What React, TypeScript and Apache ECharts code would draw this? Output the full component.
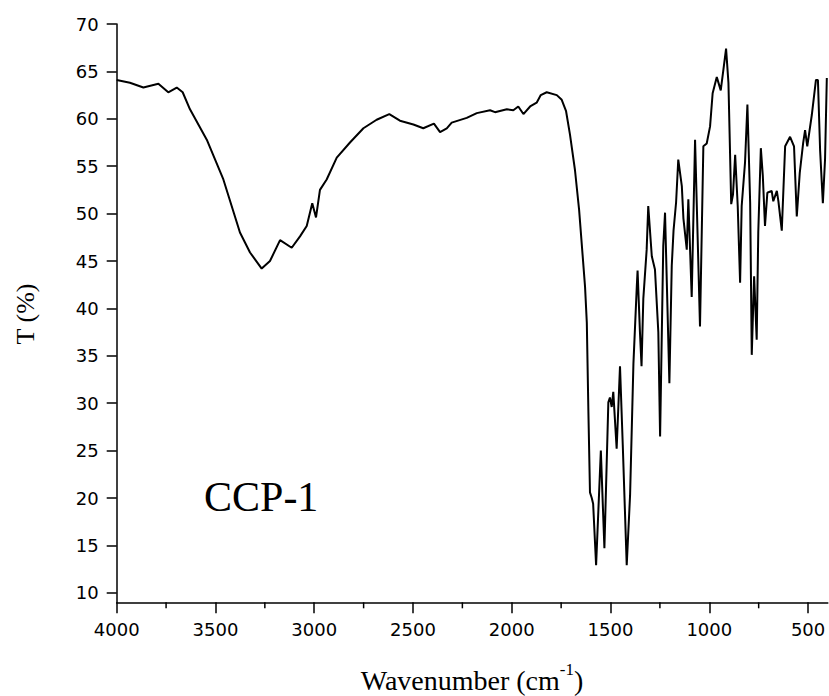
import React, { useEffect, useRef } from "react";
import * as echarts from "echarts";

// Wavenumber (cm^-1) and transmittance (%)
const highWavenumber = [
  4000, 3933, 3865, 3789, 3739, 3696, 3666, 3629, 3544, 3460, 3376, 3325, 3266, 3224, 3173,
  3114, 3072, 3038, 3010, 2991, 2971, 2937, 2886, 2819, 2751, 2684, 2620, 2566, 2498, 2448,
  2394, 2363, 2329, 2304, 2228, 2177, 2110, 2085, 2025, 1992, 1967, 1941, 1907, 1874, 1853,
  1823, 1772, 1747, 1725, 1705, 1680, 1659,
];
const highTransmittance = [
  64.1, 63.8, 63.3, 63.7, 62.8, 63.3, 62.8, 61.0, 57.8, 53.6, 48.0, 45.9, 44.2, 45.0, 47.2,
  46.4, 47.6, 48.7, 51.1, 49.6, 52.5, 53.6, 55.9, 57.5, 59.0, 59.9, 60.5, 59.8, 59.4, 59.0,
  59.5, 58.6, 59.0, 59.6, 60.1, 60.6, 60.9, 60.7, 61.0, 60.9, 61.3, 60.5, 61.3, 61.7, 62.5,
  62.8, 62.5, 62.0, 60.8, 58.3, 54.6, 50.4,
];
const fingerprintWavenumber = [
  1629, 1620, 1612, 1604, 1595, 1588, 1573, 1549, 1531, 1511, 1503, 1494, 1486, 1469, 1452,
  1438, 1418, 1401, 1384, 1367, 1363, 1351, 1343, 1334, 1317, 1309, 1291, 1275, 1258, 1249,
  1233, 1224, 1202, 1190, 1181, 1168, 1157, 1139, 1131, 1114, 1106, 1089, 1072, 1047, 1030,
  1013, 996, 983, 962, 942, 929, 915, 903, 889, 880, 869, 856, 844, 836, 819,
  807, 793, 785, 773, 760, 752, 739, 729, 718, 706, 684, 676, 658, 650, 633,
  616, 591, 571, 557, 542, 525, 515, 504, 481, 460, 450, 439, 425, 414, 405,
];
const fingerprintTransmittance = [
  42.3, 38.5, 29.1, 20.6, 20.0, 19.4, 12.9, 25.0, 14.7, 30.1, 30.6, 29.6, 31.2, 25.2, 33.9,
  25.6, 12.9, 20.3, 34.2, 42.3, 44.0, 37.5, 33.9, 41.0, 46.2, 50.8, 45.5, 44.1, 37.5, 26.5,
  46.6, 50.1, 32.1, 44.5, 48.2, 51.2, 55.7, 52.9, 49.5, 46.2, 51.5, 41.2, 57.8, 38.1, 57.1,
  57.4, 59.2, 62.7, 64.4, 63.0, 65.1, 67.4, 63.8, 51.0, 52.0, 56.2, 50.8, 42.7, 50.8, 55.4,
  61.5, 51.1, 35.1, 43.4, 36.7, 48.0, 56.9, 54.0, 48.7, 52.2, 52.4, 51.3, 52.4, 51.3, 48.2,
  57.1, 58.1, 57.1, 49.7, 54.3, 57.4, 58.8, 57.1, 60.4, 64.1, 64.1, 56.7, 51.1, 55.7, 64.3,
];

const xMajorTicks = [4000, 3500, 3000, 2500, 2000, 1500, 1000, 500];
const xMinorTicks = [3750, 3250, 2750, 2250, 1750, 1250, 750];
const yTicks = [10, 15, 20, 25, 30, 35, 40, 45, 50, 55, 60, 65, 70];
const xRange = [400, 4000];
const yRange = [9, 70];
const sampleLabel = "CCP-1";
const yTitle = "T (%)";

export default function App() {
  const ref = useRef<HTMLDivElement>(null);

  useEffect(() => {
    if (!ref.current) return;
    const chart = echarts.init(ref.current, null, { renderer: "svg" });
    const wn = [...highWavenumber, ...fingerprintWavenumber];
    const tr = [...highTransmittance, ...fingerprintTransmittance];
    const data = wn.map((w, i) => [w, tr[i]]);
    const black = "#000";
    const labelFont = { color: black, fontFamily: "DejaVu Sans", fontSize: 18 };
    const axisLineStyle = { color: black, width: 1.5 };

    chart.setOption({
      animation: false,
      backgroundColor: "#fff",
      grid: { left: 116.7, right: 1.2, top: 24, bottom: 93.7, containLabel: false },
      xAxis: {
        type: "value",
        min: xRange[0],
        max: xRange[1],
        inverse: true,
        position: "bottom",
        axisLine: { show: true, onZero: false, lineStyle: axisLineStyle },
        axisTick: {
          show: true,
          inside: false,
          length: 11,
          customValues: xMajorTicks,
          lineStyle: axisLineStyle,
        },
        axisLabel: {
          customValues: xMajorTicks,
          margin: 18,
          formatter: (v: number) => String(v),
          ...labelFont,
        },
        splitLine: { show: false },
      },
      yAxis: {
        type: "value",
        min: yRange[0],
        max: yRange[1],
        axisLine: { show: true, onZero: false, lineStyle: axisLineStyle },
        axisTick: {
          show: true,
          inside: false,
          length: 10,
          customValues: yTicks,
          lineStyle: axisLineStyle,
        },
        axisLabel: {
          customValues: yTicks,
          margin: 18,
          formatter: (v: number) => String(v),
          ...labelFont,
        },
        splitLine: { show: false },
      },
      series: [
        {
          type: "line",
          data,
          symbol: "none",
          showSymbol: false,
          lineStyle: { color: black, width: 2 },
          silent: true,
          z: 3,
        },
        {
          // minor ticks of the wavenumber axis, drawn through the axis scale
          type: "custom",
          silent: true,
          clip: false,
          z: 5,
          data: xMinorTicks.map((v) => [v, yRange[0]]),
          encode: { x: 0, y: 1 },
          renderItem: (_params: any, api: any) => {
            const p = api.coord([api.value(0), api.value(1)]);
            return {
              type: "rect",
              shape: { x: p[0] - 0.75, y: p[1], width: 1.5, height: 6 },
              style: { fill: black },
            };
          },
        },
      ],
      graphic: [
        {
          type: "text",
          x: 25,
          y: 314,
          rotation: Math.PI / 2,
          style: {
            text: yTitle,
            fill: black,
            fontFamily: "Liberation Serif",
            fontSize: 26,
            align: "center",
            verticalAlign: "middle",
            textAlign: "center",
            textVerticalAlign: "middle",
          },
        },
        {
          type: "text",
          x: 472,
          y: 680,
          style: {
            text: "{a|Wavenumber (cm}{s|-1}{a|)}",
            fill: black,
            align: "center",
            verticalAlign: "middle",
            textAlign: "center",
            textVerticalAlign: "middle",
            rich: {
              a: { fontFamily: "Liberation Serif", fontSize: 28, lineHeight: 38, fill: black },
              s: {
                fontFamily: "Liberation Serif",
                fontSize: 17,
                lineHeight: 17,
                verticalAlign: "top",
                fill: black,
              },
            },
          },
        },
        {
          type: "text",
          x: 204,
          y: 497,
          style: {
            text: sampleLabel,
            fill: black,
            fontFamily: "Liberation Serif",
            fontSize: 42,
            align: "left",
            verticalAlign: "middle",
            textAlign: "left",
            textVerticalAlign: "middle",
          },
        },
      ],
    });

    return () => chart.dispose();
  }, []);

  return (
    <div
      ref={ref}
      style={{ position: "absolute", left: 0, top: 0, width: 829, height: 696 }}
    />
  );
}
